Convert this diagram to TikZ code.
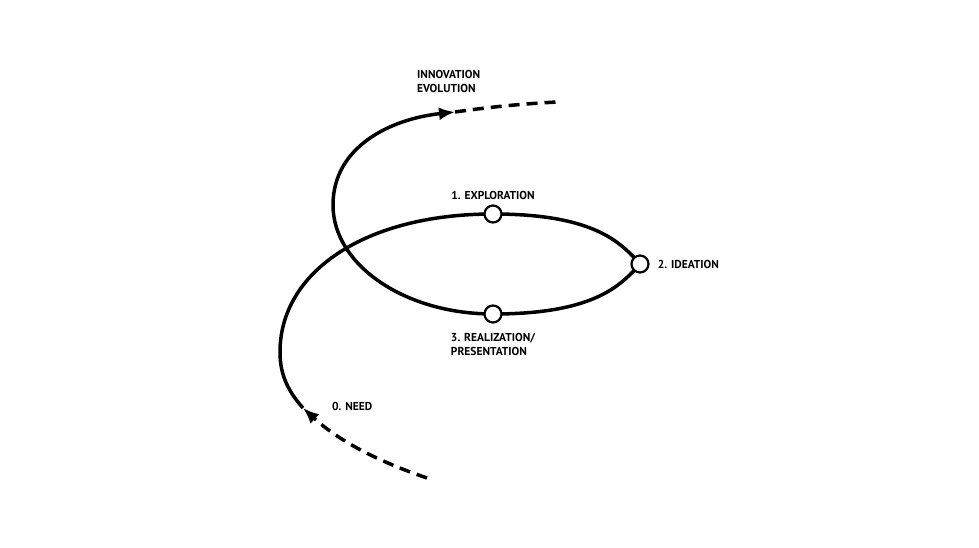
\documentclass[tikz,border=0pt]{standalone}
\usepackage{fontspec}
\setmainfont{PT Sans}
\usetikzlibrary{arrows.meta,positioning,backgrounds}
\tikzset{
  loopline/.style={line width=3.5pt},
  tail/.style={loopline,dash pattern=on 11pt off 7pt},
  tip/.style={-{Latex[length=16pt,width=13pt]}},
  stage/.style={circle,draw,fill=white,line width=2.2pt,minimum size=17pt,inner sep=0pt},
  lbl/.style={font=\fontsize{11.5}{14}\selectfont\bfseries,align=left,inner sep=0pt},
}
\begin{document}
\begin{tikzpicture}[x=1pt,y=1pt]
  \useasboundingbox (0,0) rectangle (979,547);
  % stages on the loop
  \node[stage] (c1) at (493,333) {};
  \node[stage] (c2) at (640,283) {};
  \node[stage] (c3) at (493,233) {};
  \coordinate (start) at (427,69);
  \coordinate (need) at (303,139);
  \coordinate (outer) at (280,195);
  \coordinate (inner) at (333,342);
  \coordinate (evo) at (455,435);
  \coordinate (finish) at (557,445);
  % the spiral
  \begin{scope}[on background layer]
    \draw[tail,tip] (start) .. controls (380,85) and (340,105) .. (need);
    \draw[loopline,tip] (need) .. controls (286,158) and (280,175) .. (outer)
      .. controls (280,275) and (365,333) .. (c1.center)
      .. controls (595,333) and (621,304) .. (c2.center)
      .. controls (621,262) and (595,233) .. (c3.center)
      .. controls (405,233) and (333,282) .. (inner)
      .. controls (333,400) and (390,428) .. (evo);
    \draw[tail] (evo) .. controls (490,440) and (520,443) .. (finish);
  \end{scope}
  % labels
  \node[lbl,above=5pt of c1] (l1) {1. EXPLORATION};
  \node[lbl,right=8pt of c2] (l2) {2. IDEATION};
  \node[lbl,below=9pt of c3] (l3) {3. REALIZATION/\\PRESENTATION};
  \node[lbl,anchor=west] (l0) at (332,141) {0. NEED};
  \node[lbl,anchor=west] (l4) at (417,466) {INNOVATION\\EVOLUTION};
\end{tikzpicture}
\end{document}
